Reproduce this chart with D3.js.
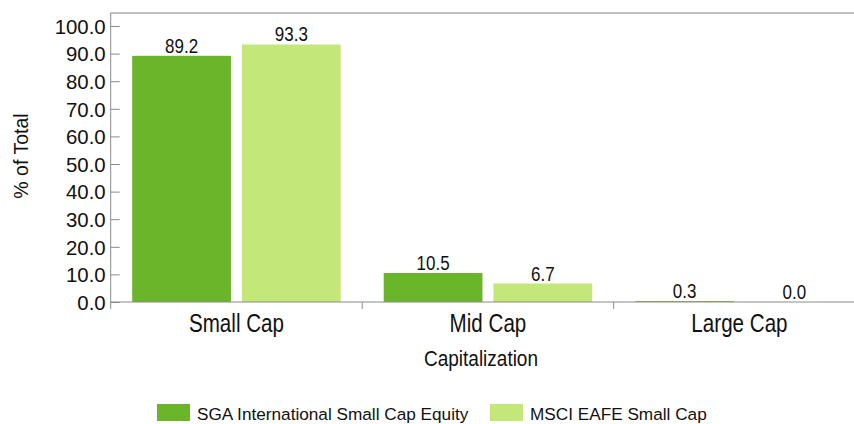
<!DOCTYPE html>
<html>
<head>
<meta charset="utf-8">
<script src="https://cdn.jsdelivr.net/npm/d3@7/dist/d3.min.js"></script>
<style>
  html, body { margin: 0; padding: 0; background: #fff; }
  svg { display: block; font-family: "Liberation Sans", Arial, sans-serif; }
</style>
</head>
<body>
<svg id="chart" width="854" height="424"></svg>
<script>
// Capitalization breakdown, % of total
const categories = ["Small Cap", "Mid Cap", "Large Cap"];
const seriesNames = ["SGA International Small Cap Equity", "MSCI EAFE Small Cap"];
const sgaValues = [89.2, 10.5, 0.3];
const msciValues = [93.3, 6.7, 0.0];
const yTicks = [0, 10, 20, 30, 40, 50, 60, 70, 80, 90, 100];
const colors = ["#6bb52b", "#c3e779"];

const seriesValues = [sgaValues, msciValues];

const svg = d3.select("#chart");
const plotLeft = 110.7, plotTop = 13, plotBottom = 302, bandStep = 251.5;
const plotRight = plotLeft + bandStep * categories.length;

const x0 = d3.scaleBand().domain(categories).range([plotLeft, plotRight]).padding(0);
const x1 = d3.scaleBand().domain(seriesNames)
  .range([21.5, bandStep - 21.5]).paddingInner(0.1).paddingOuter(0);
const y = d3.scaleLinear().domain([0, 100]).range([plotBottom, 26]);

// tall, slightly condensed lettering used for labels
function tallText(sel, size, stretch) {
  return sel.attr("font-size", size).attr("fill", "#111")
    .attr("transform", function () {
      const t = d3.select(this);
      return `translate(${t.attr("data-x")},${t.attr("data-y")}) scale(1,${stretch})`;
    });
}

// frame: top rule
svg.append("line").attr("x1", plotLeft).attr("x2", 854).attr("y1", plotTop).attr("y2", plotTop)
  .attr("stroke", "#a8a8a8").attr("stroke-width", 1.5);

// bars
const rows = [];
categories.forEach((c, i) => seriesNames.forEach((s, j) =>
  rows.push({ cat: c, series: s, idx: j, value: seriesValues[j][i] })));

svg.append("g").selectAll("rect").data(rows).join("rect")
  .attr("x", d => x0(d.cat) + x1(d.series))
  .attr("y", d => y(d.value))
  .attr("width", x1.bandwidth())
  .attr("height", d => plotBottom - y(d.value))
  .attr("fill", d => colors[d.idx]);

svg.append("g").selectAll("text").data(rows).join("text")
  .attr("data-x", d => x0(d.cat) + x1(d.series) + x1.bandwidth() / 2)
  .attr("data-y", d => y(d.value) - 3)
  .attr("text-anchor", "middle")
  .text(d => d.value.toFixed(1))
  .call(tallText, 17, 1.15);

// y axis, ticks pointing into the plot
const yAxis = svg.append("g").attr("transform", `translate(${plotLeft},0)`)
  .call(d3.axisLeft(y).tickValues(yTicks).tickFormat(d => d.toFixed(1))
    .tickSize(-9).tickPadding(4));
yAxis.attr("font-family", null);
yAxis.select(".domain").attr("d", `M0,${plotTop}V${plotBottom + 7}`).attr("stroke", "#8a8a8a");
yAxis.selectAll(".tick line").attr("stroke", "#8a8a8a");
yAxis.selectAll(".tick text").attr("font-size", 20.4)
  .attr("fill", "#111").attr("x", -5).attr("dy", "0.36em");

// x axis with separators between categories
const xAxis = svg.append("g").attr("transform", `translate(0,${plotBottom})`);
xAxis.append("line").attr("x1", plotLeft).attr("x2", 854).attr("y1", 0).attr("y2", 0)
  .attr("stroke", "#8a8a8a");
xAxis.selectAll(".sep").data(categories.slice(1)).join("line")
  .attr("class", "sep")
  .attr("x1", d => x0(d)).attr("x2", d => x0(d))
  .attr("y1", 0).attr("y2", 7).attr("stroke", "#8a8a8a");
xAxis.selectAll(".cat").data(categories).join("text")
  .attr("class", "cat")
  .attr("data-x", d => x0(d) + x0.bandwidth() / 2)
  .attr("data-y", 30)
  .attr("text-anchor", "middle")
  .text(d => d)
  .call(tallText, 20.6, 1.22);

// axis titles
svg.append("text").attr("data-x", 481).attr("data-y", 366).attr("text-anchor", "middle")
  .text("Capitalization").call(tallText, 19, 1.12);
svg.append("text").attr("transform", "translate(28,156) rotate(-90)")
  .attr("text-anchor", "middle").attr("font-size", 19.5).attr("fill", "#111")
  .text("% of Total");

// legend
const legendX = [157, 490];
const legend = svg.append("g").selectAll("g").data(seriesNames).join("g")
  .attr("transform", (d, i) => `translate(${legendX[i]},404)`);
legend.append("rect").attr("width", 33).attr("height", 17)
  .attr("fill", (d, i) => colors[i]);
legend.append("text").attr("x", 40).attr("y", 15.5).attr("font-size", 17.2)
  .attr("fill", "#111").text(d => d);
</script>
</body>
</html>
